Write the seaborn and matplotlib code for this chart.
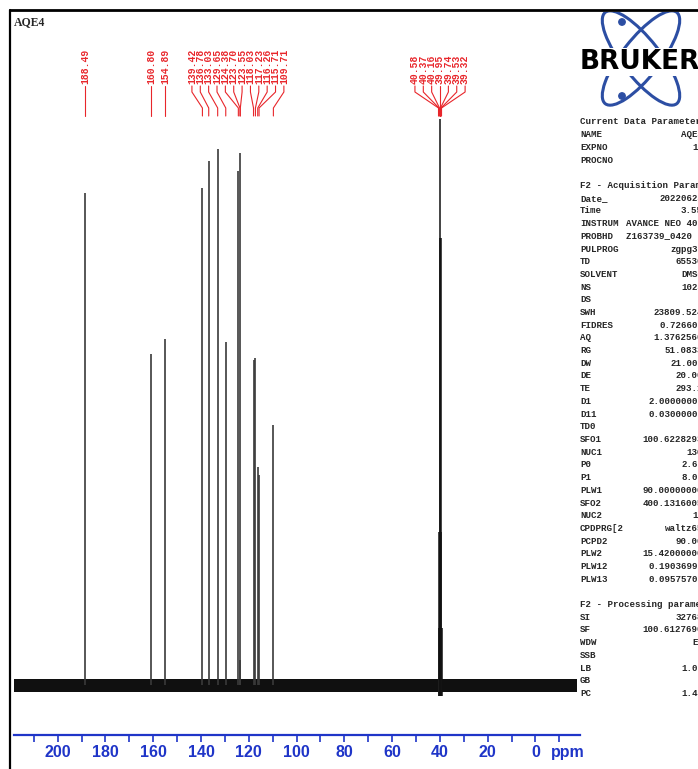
import matplotlib
matplotlib.use('Agg')
import matplotlib.pyplot as plt
from matplotlib.lines import Line2D
from matplotlib.patches import Ellipse, Circle
import seaborn as sns

sns.set_theme(style='white')
plt.rcParams['font.family'] = ['Liberation Sans', 'DejaVu Sans']

# 13C peaks (ppm) and relative heights (DMSO centre line = 100)
peak_ppm = [188.49, 160.80, 154.89, 139.42, 136.78, 133.03, 129.65, 124.38,
            123.70, 123.55, 118.03, 117.23, 116.26, 115.71, 109.71]
peak_int = [86.9, 58.5, 61.1, 87.8, 92.6, 94.7, 60.6, 90.8,
            94.0, 4.4, 57.4, 57.8, 38.5, 37.1, 45.9]
solvent_ppm = [40.58, 40.37, 40.16, 39.95, 39.74, 39.53, 39.32]
solvent_int = [10, 27, 79, 100, 79, 27, 10]

# peak-pick label groups (labels drawn in these clusters)
label_groups = [[188.49], [160.80], [154.89],
                [139.42, 136.78, 133.03, 129.65, 124.38, 123.70, 123.55,
                 118.03, 117.23, 116.26, 115.71, 109.71],
                solvent_ppm]

xticks = list(range(0, 201, 20))

# acquisition / processing parameter block
param_keys = ['Current Data Parameters', 'NAME', 'EXPNO', 'PROCNO', '',
              'F2 - Acquisition Parameters', 'Date_', 'Time', 'INSTRUM', 'PROBHD',
              'PULPROG', 'TD', 'SOLVENT', 'NS', 'DS', 'SWH', 'FIDRES', 'AQ', 'RG',
              'DW', 'DE', 'TE', 'D1', 'D11', 'TD0', 'SFO1', 'NUC1', 'P0', 'P1',
              'PLW1', 'SFO2', 'NUC2', 'CPDPRG[2', 'PCPD2', 'PLW2', 'PLW12', 'PLW13',
              '', 'F2 - Processing parameters', 'SI', 'SF', 'WDW', 'SSB', 'LB', 'GB', 'PC']
param_vals = ['', 'AQE4', '11', '1', '',
              '', '20220624', '3.55', 'AVANCE NEO 400', 'Z163739_0420 (',
              'zgpg30', '65536', 'DMSO', '1024', '4', '23809.524', '0.726609', '1.3762560', '51.0833',
              '21.000', '20.00', '293.1', '2.00000000', '0.03000000', '1', '100.6228293', '13C', '2.67', '8.00',
              '90.00000000', '400.1316005', '1H', 'waltz65', '90.00', '15.42000000', '0.19036999', '0.09575700',
              '', '', '32768', '100.6127690', 'EM', '0', '1.00', '0', '1.40']

W, H = 698, 769
BLUE = '#1f35c8'
RED = '#e8262b'
fig = plt.figure(figsize=(W / 100, H / 100), dpi=100)


def fx(px):
    return px / W


def fy(py):
    return 1 - py / H


# spectrum axes: px 14..580 horizontally, baseline at y=685 px
scale = 5.66  # px per intensity unit


def yv(py):
    return (685 - py) / scale


ax = fig.add_axes([fx(14), fy(735), fx(580) - fx(14), fy(30) - fy(735)])
ax.set_xlim(218.3, -18.65)
ax.set_ylim(yv(735), yv(30))
ax.set_facecolor('white')

# noise band of the baseline (broken under the solvent signal)
ax.fill_between([218.3, 40.9], -1.2, 1.0, color='#101010', lw=0)
ax.fill_between([39.1, -17.5], -1.2, 1.0, color='#101010', lw=0)

ax.vlines(peak_ppm, 0, peak_int, color='#3a3a3a', lw=1.2)
ax.vlines(solvent_ppm, -2.0, solvent_int, color='#111111', lw=1.1)

# peak labels with connector lines
spacing = 3.5
for grp in label_groups:
    n = len(grp)
    centre = (max(grp) + min(grp)) / 2
    for i, p in enumerate(grp):
        lx = centre + spacing * ((n - 1) / 2 - i) if n > 1 else p
        ax.text(lx, yv(84), f'{p:.2f}', rotation=90, ha='center', va='bottom',
                color=RED, fontsize=7, fontweight='bold',
                family=['Liberation Mono', 'DejaVu Sans Mono'])
        ax.plot([lx, lx, p, p], [yv(86), yv(92), yv(108), yv(116)],
                color=RED, lw=0.8, clip_on=False)

sns.despine(ax=ax, left=True, top=True, right=True)
ax.spines['bottom'].set_color(BLUE)
ax.spines['bottom'].set_linewidth(1.6)
ax.set_yticks([])
ax.set_xticks(xticks)
ax.set_xticks(list(range(-10, 211, 10)), minor=True)
ax.tick_params(axis='x', which='both', colors=BLUE, direction='out',
               length=5, width=1.2, bottom=True, pad=2)
for lab in ax.get_xticklabels():
    lab.set_fontfamily(['Liberation Sans Narrow', 'Liberation Sans'])
    lab.set_fontweight('bold')
    lab.set_fontsize(11.5)
ax.text(-13.6, yv(752), 'ppm', ha='center', va='center', color=BLUE,
        fontsize=11.5, fontweight='bold',
        family=['Liberation Sans Narrow', 'Liberation Sans'])

# frame lines
fig.add_artist(Line2D([fx(10), 1], [fy(10), fy(10)], color='black', lw=2))
fig.add_artist(Line2D([fx(10), fx(10)], [fy(10), 0], color='black', lw=1.6))
fig.text(fx(14), fy(22), 'AQE4', ha='left', va='center', fontsize=8.5,
         fontweight='bold', family=['Liberation Serif', 'DejaVu Serif'])

# Bruker logo
lax = fig.add_axes([fx(578), fy(112), fx(698) - fx(578), fy(12) - fy(112)])
lax.set_xlim(578, 698)
lax.set_ylim(112, 12)
lax.axis('off')
for ang in (52, -52):
    lax.add_patch(Ellipse((641, 58), 116, 38, angle=ang, fill=False,
                          ec='#2c4ea3', lw=2.2))
lax.add_patch(Circle((622, 22), 3.2, color='#2c4ea3'))
lax.add_patch(Circle((622, 96), 3.2, color='#2c4ea3'))
lax.text(640, 62, 'BRUKER', ha='center', va='center', fontsize=19,
         fontweight='bold', color='black', family='DejaVu Sans',
         bbox=dict(fc='white', ec='none', pad=0.5))

# parameter block
pfont = ['Liberation Mono', 'DejaVu Sans Mono']
for i, (k, v) in enumerate(zip(param_keys, param_vals)):
    y = fy(122 + i * 12.7)
    if k:
        fig.text(fx(580), y, k, ha='left', va='center', fontsize=6.6,
                 fontweight='bold', family=pfont)
    if v:
        fig.text(fx(703), y, v, ha='right', va='center', fontsize=6.6,
                 fontweight='bold', family=pfont)

fig.savefig('out.png', dpi=100)
